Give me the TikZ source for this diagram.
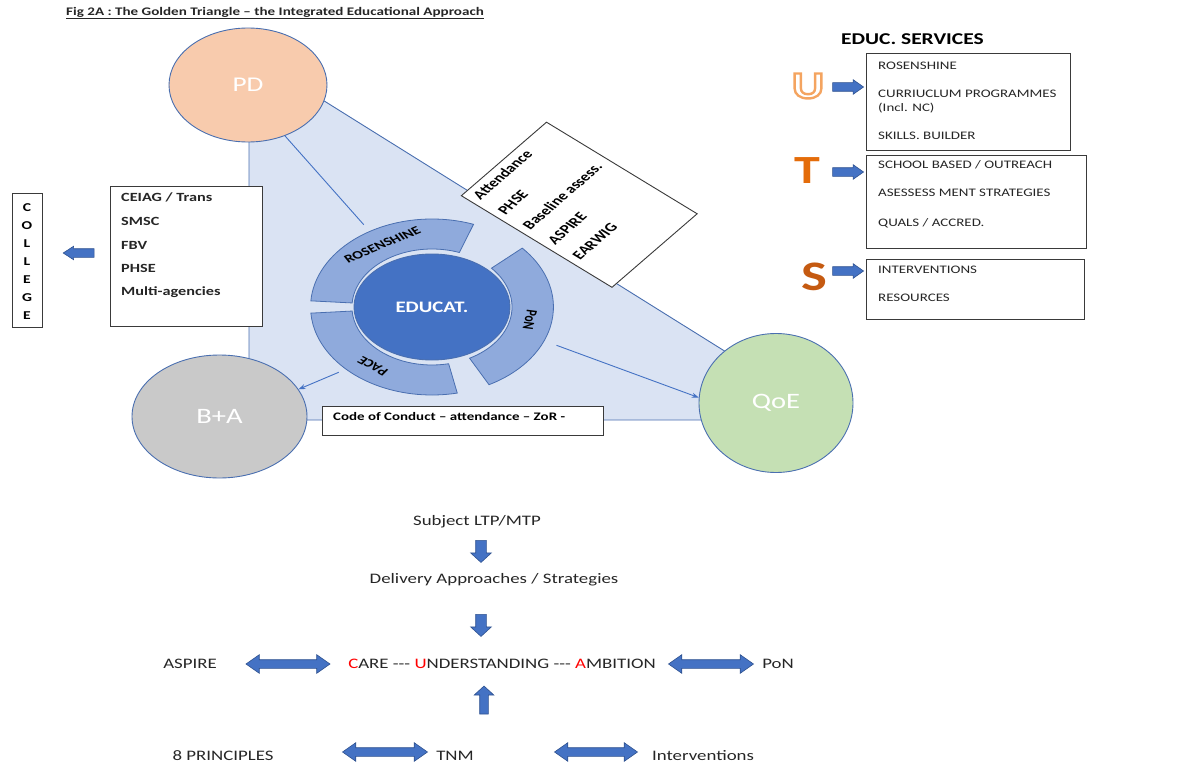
\documentclass[tikz,border=0pt]{standalone}
\usepackage{fontspec}
\setmainfont{Carlito}[FakeStretch=1.3]
\newfontfamily\plainfont{Carlito}
\usetikzlibrary{shapes.geometric,shapes.arrows,arrows.meta,calc}
\definecolor{accent}{HTML}{4472C4}
\definecolor{accentdark}{HTML}{2F528F}
\definecolor{edgeblue}{HTML}{4A6FB0}
\definecolor{trifill}{HTML}{DAE3F3}
\definecolor{ringfill}{HTML}{8FAADC}
\definecolor{pdfill}{HTML}{F8CBAD}
\definecolor{bafill}{HTML}{C9C9C9}
\definecolor{qoefill}{HTML}{C5E0B4}
\definecolor{ucol}{HTML}{F4A460}
\definecolor{tcol}{HTML}{E46C0A}
\definecolor{scol}{HTML}{C55A11}
\definecolor{txt}{HTML}{262626}
\definecolor{boxgray}{HTML}{3A3A3A}
\definecolor{cred}{HTML}{FF0000}
\newcommand{\fsz}[2]{\fontsize{#1}{#2}\selectfont}
\newcommand{\outlined}[1]{\special{pdf:literal 1 Tr 2.4 w 0.957 0.643 0.376 RG}#1\special{pdf:literal 0 Tr}}
\begin{document}
\begin{tikzpicture}[x=1pt,y=1pt,
  tri/.style={fill=trifill, draw=edgeblue, line width=0.9pt},
  circ/.style={ellipse, draw=edgeblue, line width=0.9pt, inner sep=0pt, text=white},
  boxed/.style={draw=boxgray, line width=0.9pt, fill=white, inner sep=0pt},
  lbl/.style={inner sep=0pt, anchor=west, text=txt},
  smalltxt/.style={lbl, font=\fsz{11.5}{13}},
  boldtxt/.style={lbl, font=\bfseries\fsz{12.5}{14}},
  bottxt/.style={inner sep=0pt, text=txt, font=\fsz{14.5}{17}},
  ringseg/.style={fill=ringfill, draw=edgeblue, line width=0.8pt},
  ringtxt/.style={inner sep=0pt, transform shape, text=black, font=\plainfont\bfseries\fsz{11.5}{13}},
  conn/.style={draw=accent, line width=0.9pt},
  connarrow/.style={conn, -{Stealth[length=7pt,width=5pt]}},
  blockarrow/.style={fill=accent, draw=accentdark, line width=0.6pt, inner xsep=0pt, inner ysep=4pt},
  sarrow/.style={blockarrow, single arrow, single arrow head extend=3pt, single arrow tip angle=70},
  varrow/.style={blockarrow, single arrow, inner ysep=5pt, single arrow head extend=5pt, single arrow tip angle=95},
  darrow/.style={blockarrow, double arrow, double arrow head extend=5pt, double arrow tip angle=70},
  letter/.style={inner sep=0pt, font=\bfseries\fsz{38}{38}}
]
\useasboundingbox (0,0) rectangle (1184,-768);

% title
\node[lbl, font=\bfseries\fsz{11.6}{13}] (title) at (66,-13) {\underline{Fig 2A : The Golden Triangle -- the Integrated Educational Approach}};

% triangle
\coordinate (tA) at (249,-54);
\coordinate (tB) at (249,-420);
\coordinate (tC) at (835,-420);
\draw[tri] (tA) -- (tB) -- (tC) -- cycle;

% vertices
\node[circ, fill=pdfill, minimum width=158, minimum height=114, font=\fsz{21}{24}] (pd) at (248,-85) {PD};
\node[circ, fill=bafill, minimum width=175, minimum height=123, font=\fsz{22}{24}] (ba) at (219.5,-416.5) {B+A};
\node[circ, fill=qoefill, minimum width=154, minimum height=139, font=\fsz{22}{24}] (qoe) at (776,-403) {QoE};

% ring
\begin{scope}[shift={(432,-307)}, xscale=1.38]
  \coordinate (rosenpt) at (121:96);
  \coordinate (pacept) at (224:94);
  \coordinate (ponpt) at (-23:98);
  \filldraw[ringseg] (70:88) arc[start angle=70, end angle=176, radius=88] -- (176:58) arc[start angle=176, end angle=70, radius=58] -- cycle;
  \filldraw[ringseg] (-62:88) arc[start angle=-62, end angle=42, radius=88] -- (42:58) arc[start angle=42, end angle=-62, radius=58] -- cycle;
  \filldraw[ringseg] (184:88) arc[start angle=184, end angle=282, radius=88] -- (282:58) arc[start angle=282, end angle=184, radius=58] -- cycle;
  \node[ringtxt, rotate=30] (rosen) at (120:72) {ROSENSHINE};
  \node[ringtxt, rotate=-100] (ponlbl) at (-10:72) {PoN};
  \node[ringtxt, rotate=144] (pace) at (234:73) {PACE};
\end{scope}
\node[circ, fill=accent, minimum width=156, minimum height=106, font=\bfseries\fsz{16}{18}] (educ) at (432,-307) {EDUCAT.};

% connectors
\draw[conn] (pd.-54) -- (rosenpt);
\draw[connarrow] (pacept) -- (ba.19);
\draw[connarrow] (ponpt) -- (qoe.176);

% rotated box
\begin{scope}[shift={(579.25,-204.75)}, xscale=1.38]
  \node[boxed, rotate=50, transform shape, minimum width=96, minimum height=142.5] (obox) at (0,0) {};
  \node[rotate=50, transform shape, anchor=north west, align=left, inner xsep=6pt, inner ysep=5pt, text=black, font=\plainfont\bfseries\fsz{12.5}{23.5}] (oboxtxt) at (obox.north west) {Attendance\\PHSE\\Baseline assess.\\ASPIRE\\EARWIG};
\end{scope}

% left box
\node[boxed, minimum width=152, minimum height=140, anchor=north west] (cbox) at (110,-186) {};
\node[boldtxt] (c1) at (121,-197) {CEIAG / Trans};
\node[boldtxt] (c2) at (121,-221) {SMSC};
\node[boldtxt] (c3) at (121,-245) {FBV};
\node[boldtxt] (c4) at (121,-268) {PHSE};
\node[boldtxt] (c5) at (121,-292) {Multi-agencies};

\node[boxed, minimum width=30, minimum height=134, anchor=north west] (college) at (12,-193) {};
\node[inner sep=0pt, align=center, text=black, font=\bfseries\fsz{12}{18}] (collegetxt) at (27,-262) {C\\O\\L\\L\\E\\G\\E};
\node[sarrow, minimum height=31, rotate=180, single arrow head extend=2.5pt, single arrow tip angle=66] (leftarr) at (82,-253) {};

% code of conduct
\node[boxed, minimum width=281, minimum height=29, anchor=north west] (code) at (322,-406) {};
\node[lbl, text=black, font=\bfseries\fsz{11.5}{13}] (codetxt) at (333,-417) {Code of Conduct -- attendance -- ZoR -};

% services
\node[lbl, text=black, font=\bfseries\fsz{16.5}{18}] (services) at (841,-39) {EDUC. SERVICES};
\node[boxed, minimum width=204, minimum height=97, anchor=north west] (ubox) at (866,-53) {};
\node[smalltxt] (u1) at (878,-66) {ROSENSHINE};
\node[smalltxt] (u2) at (878,-94) {CURRIUCLUM PROGRAMMES};
\node[smalltxt] (u3) at (878,-108) {(Incl. NC)};
\node[smalltxt] (u4) at (878,-136) {SKILLS. BUILDER};
\node[boxed, minimum width=220, minimum height=93, anchor=north west] (tbox) at (866,-155) {};
\node[smalltxt] (t1) at (878,-165) {SCHOOL BASED / OUTREACH};
\node[smalltxt] (t2) at (878,-193) {ASESSESS MENT STRATEGIES};
\node[smalltxt] (t3) at (878,-223) {QUALS / ACCRED.};
\node[boxed, minimum width=218, minimum height=60, anchor=north west] (sbox) at (866,-259) {};
\node[smalltxt] (s1) at (878,-270) {INTERVENTIONS};
\node[smalltxt] (s2) at (878,-298) {RESOURCES};

\node[letter, text=ucol] (uletter) at (808,-86) {\outlined{U}};
\node[letter, text=tcol, font=\bfseries\fsz{40}{40}] (tletter) at (807,-171) {T};
\node[letter, text=scol, font=\bfseries\fsz{42}{42}] (sletter) at (814,-277) {S};
\node[sarrow, minimum height=31] (uarr) at (845,-87) {};
\node[sarrow, minimum height=31] (tarr) at (845,-172) {};
\node[sarrow, minimum height=31] (sarr) at (845,-271) {};

% bottom flow
\node[bottxt] (subject) at (477,-522) {Subject LTP/MTP};
\node[varrow, minimum height=22, rotate=-90] (down1) at (481,-549) {};
\node[bottxt] (delivery) at (494,-580) {Delivery Approaches / Strategies};
\node[varrow, minimum height=22, rotate=-90] (down2) at (481,-623) {};
\node[bottxt] (cua) at (502,-664) {\textcolor{cred}{C}ARE -{}-{}- \textcolor{cred}{U}NDERSTANDING -{}-{}- \textcolor{cred}{A}MBITION};
\node[varrow, minimum height=28, rotate=90, inner ysep=4pt, single arrow head extend=5.5pt] (up1) at (484,-702) {};
\node[bottxt] (aspire) at (190,-664) {ASPIRE};
\node[darrow, minimum height=84] (d1) at (288,-664) {};
\node[darrow, minimum height=85] (d2) at (711,-664) {};
\node[bottxt] (pon) at (778,-664) {PoN};
\node[bottxt] (principles) at (223,-756) {8 PRINCIPLES};
\node[darrow, minimum height=85] (d3) at (385,-752) {};
\node[bottxt] (tnm) at (455,-756) {TNM};
\node[darrow, minimum height=83] (d4) at (596,-752) {};
\node[bottxt] (interv) at (703,-756) {Interventions};
\end{tikzpicture}
\end{document}
